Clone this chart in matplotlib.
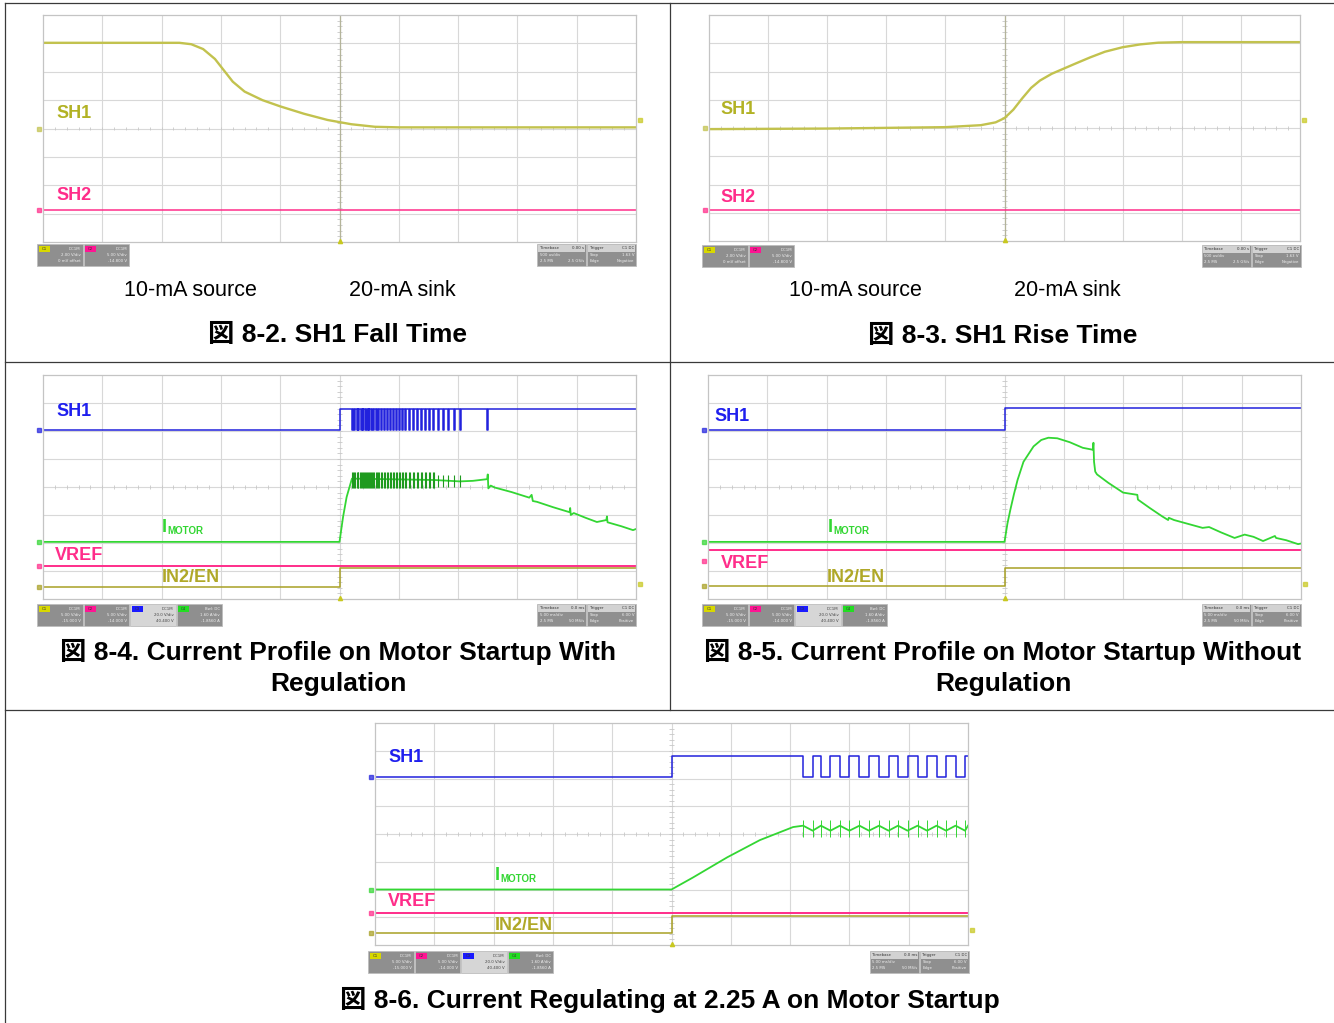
import numpy as np
import matplotlib
matplotlib.use('Agg')
import matplotlib.pyplot as plt
from matplotlib.patches import Rectangle

# ---------------- data (oscilloscope divisions: x 0..10, y 0..8) ----------------
# Fig 8-2 SH1 fall
fall_t = [0, 2.3, 2.5, 2.7, 2.9, 3.05, 3.2, 3.4, 3.7, 4.0, 4.4, 4.8, 5.2, 5.6, 6.0, 10]
fall_v = [7.02, 7.02, 6.97, 6.8, 6.45, 6.05, 5.65, 5.3, 5.0, 4.78, 4.52, 4.3, 4.15, 4.06, 4.04, 4.04]
fall_sh2 = 1.12

# Fig 8-3 SH1 rise
rise_t = [0, 2.0, 4.0, 4.6, 4.85, 5.0, 5.15, 5.3, 5.45, 5.6, 5.8, 6.0, 6.2, 6.45, 6.7, 7.0, 7.3, 7.6, 8.0, 10]
rise_v = [3.96, 3.98, 4.03, 4.1, 4.2, 4.35, 4.65, 5.05, 5.42, 5.68, 5.92, 6.1, 6.28, 6.5, 6.7, 6.86, 6.96, 7.02, 7.04, 7.04]
rise_sh2 = 1.1

# Fig 8-4 with regulation
p3_sh1_levels = [6.04, 6.8]
p3_sh1_pulses = [5.21, 5.25, 5.29, 5.32, 5.36, 5.39, 5.43, 5.46, 5.49, 5.53, 5.56, 5.61, 5.65,
                 5.70, 5.75, 5.80, 5.85, 5.90, 5.95, 6.00, 6.05, 6.10, 6.17, 6.24, 6.31, 6.37,
                 6.44, 6.51, 6.58, 6.66, 6.75, 6.83, 6.93, 7.03, 7.49]
p3_motor_t = [0, 5.0, 5.06, 5.12, 5.21, 6.6, 7.03, 7.25, 7.49, 7.50, 7.51, 7.55, 7.62, 7.9, 8.2,
              8.24, 8.26, 8.33, 8.6, 8.88, 8.89, 8.9, 8.95, 9.15, 9.34, 9.5, 9.51, 9.52, 9.75, 9.95, 10]
p3_motor_v = [2.04, 2.04, 2.93, 3.64, 4.3, 4.25, 4.2, 4.22, 4.28, 4.45, 3.95, 4.05, 3.98, 3.82, 3.62,
              3.72, 3.5, 3.47, 3.28, 3.1, 3.25, 3.0, 3.07, 2.9, 2.75, 2.82, 2.95, 2.74, 2.6, 2.46, 2.5]
p3_vref = 1.18
p3_in2 = [0.43, 1.1]

# Fig 8-5 without regulation
p4_sh1_levels = [6.04, 6.82]
p4_motor_t = [0, 5.0, 5.05, 5.1, 5.16, 5.22, 5.32, 5.49, 5.62, 5.74, 5.89, 6.1, 6.32, 6.49, 6.5,
              6.51, 6.53, 6.56, 6.75, 7.0, 7.24, 7.25, 7.27, 7.45, 7.66, 7.76, 7.77, 7.86, 8.1,
              8.34, 8.45, 8.65, 8.88, 9.05, 9.2, 9.36, 9.56, 9.58, 9.75, 9.95, 10]
p4_motor_v = [2.04, 2.04, 2.7, 3.2, 3.75, 4.25, 4.9, 5.45, 5.68, 5.76, 5.74, 5.6, 5.4, 5.33, 5.58,
              4.9, 4.55, 4.45, 4.15, 3.8, 3.72, 3.55, 3.52, 3.25, 2.95, 2.82, 2.9, 2.82, 2.68,
              2.54, 2.57, 2.38, 2.18, 2.3, 2.22, 2.07, 2.25, 2.18, 2.1, 1.96, 1.98]
p4_vref = 1.75
p4_in2 = [0.46, 1.1]

# Fig 8-6 regulating at 2.25 A
p5_sh1_levels = [6.05, 6.8]
p5_low_starts = [7.22, 7.52, 7.84, 8.17, 8.50, 8.82, 9.15, 9.47, 9.79]
p5_low_width = 0.16
p5_rise_t = [0, 5.0, 5.36, 5.94, 6.49, 7.05, 7.22]
p5_rise_v = [2.0, 2.0, 2.43, 3.16, 3.78, 4.25, 4.3]
p5_ripple = [4.3, 4.12]
p5_vref = 1.14
p5_in2 = [0.42, 1.03]

# status bar texts
ch2_text = [["DC1M", "2.00 V/div", "0 mV offset"], ["DC1M", "5.00 V/div", "-14.800 V"]]
ch4_text = [["DC1M", "5.00 V/div", "-15.000 V"], ["DC1M", "5.00 V/div", "-14.000 V"],
            ["DC1M", "20.0 V/div", "40.400 V"], ["Bwl: DC", "1.60 A/div", "-1.8560 A"]]
tb_text_a = [["Timebase", "0.00 s"], ["500 us/div", ""], ["2.5 MS", "2.5 GS/s"]]
tr_text_a = [["Trigger", "C1 DC"], ["Stop", "1.63 V"], ["Edge", "Negative"]]
tb_text_b = [["Timebase", "0.0 ms"], ["5.00 ms/div", ""], ["2.5 MS", "50 MS/s"]]
tr_text_b = [["Trigger", "C1 DC"], ["Stop", "6.00 V"], ["Edge", "Positive"]]

# ---------------- styling ----------------
W, H = 1334, 1023
FONT = ['Liberation Sans', 'Noto Sans CJK JP', 'DejaVu Sans']
C_YEL = '#c2c24e'
C_YEL_LBL = '#b2b224'
C_PINK = '#ff2d8a'
C_BLUE = '#2222dd'
C_BLUE_LBL = '#1f1fee'
C_GREEN = '#33d633'
C_DGREEN = '#1f9a1f'
C_OLIVE = '#a8a024'
C_OLIVE_LBL = '#b0a828'

fig = plt.figure(figsize=(W / 100, H / 100), dpi=100)
bg = fig.add_axes([0, 0, 1, 1])
bg.set_xlim(0, W)
bg.set_ylim(H, 0)
bg.axis('off')

# table borders
lc = '#3a3a3a'
bg.plot([5, W], [3, 3], color=lc, lw=0.9)
bg.plot([5, 5], [3, H], color=lc, lw=0.9)
bg.plot([5, W], [362, 362], color=lc, lw=0.9)
bg.plot([5, W], [710, 710], color=lc, lw=0.9)
bg.plot([670, 670], [3, 710], color=lc, lw=0.9)


def scope(x0, y0, x1, y1, trig_line=False):
    ax = fig.add_axes([x0 / W, 1 - y1 / H, (x1 - x0) / W, (y1 - y0) / H])
    ax.set_xlim(0, 10)
    ax.set_ylim(0, 8)
    ax.set_facecolor('none')
    ax.set_xticks([])
    ax.set_yticks([])
    for s in ax.spines.values():
        s.set_color('#c4c4c4')
        s.set_linewidth(0.9)
    for i in range(1, 10):
        ax.axvline(i, color='#d8d8d8', lw=0.8, zorder=0)
    for j in range(1, 8):
        ax.axhline(j, color='#d8d8d8', lw=0.8, zorder=0)
    tt = np.arange(0, 10.001, 0.2)
    vv = np.arange(0, 8.001, 0.2)
    ax.vlines(tt, 3.94, 4.06, color='#c8c8c8', lw=0.6, zorder=0)
    ax.hlines(vv, 4.95, 5.05, color='#c8c8c8', lw=0.6, zorder=0)
    if trig_line:
        ax.axvline(5, color='#b4b49a', lw=0.9, zorder=0)
    ax.plot([5], [0.04], marker='^', ms=3, color='#c8c820', clip_on=False, zorder=5)
    return ax


def gnd_marker(ax, level, color, side='left'):
    x = -0.06 if side == 'left' else 10.06
    ax.plot([x], [level], marker='s', ms=2.2, color=color, alpha=0.7, clip_on=False, zorder=5)


def pulse_trace(levels, step_t, pulses, width, t_end=10):
    lo, hi = levels
    t = [0, step_t, step_t]
    v = [lo, lo, hi]
    for p in pulses:
        t += [p, p, p + width, p + width]
        v += [hi, lo, lo, hi]
    t.append(t_end)
    v.append(hi)
    return t, v


def chan_bar(x0, y0, texts, colors, selected=None):
    w, h = 46.5, 22
    for i, (c, tx) in enumerate(zip(colors, texts)):
        xx = x0 + i * w
        face = '#d6d6d6' if i == selected else '#8f8f8f'
        tcol = '#444444' if i == selected else '#f0f0f0'
        bg.add_patch(Rectangle((xx, y0), w - 1, h, facecolor=face, edgecolor='#bdbdbd', lw=0.6))
        bg.add_patch(Rectangle((xx + 1.5, y0 + 1.5), 11, 6, facecolor=c, edgecolor='none'))
        bg.text(xx + 7, y0 + 4.6, 'C%d' % (i + 1), fontsize=2.8, ha='center', va='center', color='#333333')
        for k, s in enumerate(tx):
            bg.text(xx + w - 3, y0 + 4.6 + 6.4 * k, s, fontsize=2.8, ha='right', va='center', color=tcol)


def time_bar(x1, y0, tb, tr):
    w, h = 50, 22
    for i, rows in enumerate([tb, tr]):
        xx = x1 - 2 * w + i * w
        bg.add_patch(Rectangle((xx, y0), w - 1, h, facecolor='#8f8f8f', edgecolor='#bdbdbd', lw=0.6))
        bg.add_patch(Rectangle((xx + 1, y0 + 1), w - 3, 6.5, facecolor='#d2d2d2', edgecolor='none'))
        for k, (a, b) in enumerate(rows):
            col = '#333333' if k == 0 else '#f0f0f0'
            bg.text(xx + 2.5, y0 + 4.4 + 6.4 * k, a, fontsize=2.8, ha='left', va='center', color=col)
            bg.text(xx + w - 3, y0 + 4.4 + 6.4 * k, b, fontsize=2.8, ha='right', va='center', color=col)


def label(x, y, s, color, size=13):
    fig.text(x / W, 1 - y / H, s, color=color, fontsize=size, fontweight='bold',
             family=FONT, ha='left', va='center')


def imotor(x, y):
    label(x, y + 1, 'I', C_GREEN, 13)
    fig.text((x + 5) / W, 1 - (y + 5) / H, 'MOTOR', color=C_GREEN, fontsize=7,
             fontweight='bold', family=FONT, ha='left', va='center')


def caption(x, y, s, bold=True, size=19):
    fig.text(x / W, 1 - y / H, s, color='black', fontsize=size,
             fontweight='bold' if bold else 'normal', family=FONT, ha='center', va='center')


# ---------- Panel 1: Fig 8-2 ----------
ax1 = scope(43, 15, 636, 242, trig_line=True)
ax1.axhline(fall_sh2, color=C_PINK, lw=1.1)
ax1.plot(fall_t, fall_v, color=C_YEL, lw=1.7)
gnd_marker(ax1, 4.0, C_YEL)
gnd_marker(ax1, fall_sh2, C_PINK)
gnd_marker(ax1, 4.3, '#c8c820', side='right')
label(56, 113, 'SH1', C_YEL_LBL)
label(56, 196, 'SH2', C_PINK)
chan_bar(37, 244, ch2_text, ['#d8d800', '#ff1493'])
time_bar(637, 244, tb_text_a, tr_text_a)
caption(190, 290, '10-mA source', bold=False, size=15.5)
caption(402, 290, '20-mA sink', bold=False, size=15.5)
caption(338, 335, '図 8-2. SH1 Fall Time')

# ---------- Panel 2: Fig 8-3 ----------
ax2 = scope(709, 15, 1300, 241, trig_line=True)
ax2.axhline(rise_sh2, color=C_PINK, lw=1.1)
ax2.plot(rise_t, rise_v, color=C_YEL, lw=1.7)
gnd_marker(ax2, 4.0, C_YEL)
gnd_marker(ax2, rise_sh2, C_PINK)
gnd_marker(ax2, 4.3, '#c8c820', side='right')
label(720, 110, 'SH1', C_YEL_LBL)
label(720, 197, 'SH2', C_PINK)
chan_bar(702, 245, ch2_text, ['#d8d800', '#ff1493'])
time_bar(1302, 245, tb_text_a, tr_text_a)
caption(855, 291, '10-mA source', bold=False, size=15.5)
caption(1067, 291, '20-mA sink', bold=False, size=15.5)
caption(1003, 336, '図 8-3. SH1 Rise Time')

# ---------- Panel 3: Fig 8-4 ----------
ax3 = scope(43, 375, 636, 599)
t, v = pulse_trace(p3_sh1_levels, 5.0, p3_sh1_pulses, 0.014)
ax3.plot(t, v, color=C_BLUE, lw=1.1)
ax3.plot(p3_motor_t, p3_motor_v, color=C_GREEN, lw=1.3)
dense = [p for p in p3_sh1_pulses if p < 6.6]
sparse = [p for p in p3_sh1_pulses if 6.6 <= p < 7.1]
ax3.vlines(dense + [p + 0.018 for p in dense], 3.98, 4.55, color=C_DGREEN, lw=0.8)
ax3.vlines(sparse, 4.0, 4.42, color=C_DGREEN, lw=0.8)
ax3.axhline(p3_vref, color=C_PINK, lw=1.4)
ax3.plot([0, 5, 5, 10], [p3_in2[0], p3_in2[0], p3_in2[1], p3_in2[1]], color=C_OLIVE, lw=1.1)
gnd_marker(ax3, p3_sh1_levels[0], C_BLUE)
gnd_marker(ax3, p3_motor_v[0], C_GREEN)
gnd_marker(ax3, p3_vref, C_PINK)
gnd_marker(ax3, p3_in2[0], C_OLIVE)
gnd_marker(ax3, 0.55, '#c8c820', side='right')
label(56, 412, 'SH1', C_BLUE_LBL)
imotor(162, 526)
label(55, 555, 'VREF', C_PINK)
label(162, 578, 'IN2/EN', C_OLIVE_LBL)
chan_bar(37, 604, ch4_text, ['#d8d800', '#ff1493', '#1a1aff', '#22dd22'], selected=2)
time_bar(637, 604, tb_text_b, tr_text_b)
caption(338, 652, '図 8-4. Current Profile on Motor Startup With')
caption(338, 684, 'Regulation')

# ---------- Panel 4: Fig 8-5 ----------
ax4 = scope(708, 375, 1301, 599)
ax4.plot([0, 5, 5, 10], [p4_sh1_levels[0], p4_sh1_levels[0], p4_sh1_levels[1], p4_sh1_levels[1]],
         color=C_BLUE, lw=1.1)
ax4.plot(p4_motor_t, p4_motor_v, color=C_GREEN, lw=1.3)
ax4.axhline(p4_vref, color=C_PINK, lw=1.4)
ax4.plot([0, 5, 5, 10], [p4_in2[0], p4_in2[0], p4_in2[1], p4_in2[1]], color=C_OLIVE, lw=1.1)
gnd_marker(ax4, p4_sh1_levels[0], C_BLUE)
gnd_marker(ax4, p4_motor_v[0], C_GREEN)
gnd_marker(ax4, 0.35 + 1.0, C_PINK)
gnd_marker(ax4, p4_in2[0], C_OLIVE)
gnd_marker(ax4, 0.55, '#c8c820', side='right')
label(714, 416, 'SH1', C_BLUE_LBL)
imotor(828, 526)
label(721, 563, 'VREF', C_PINK)
label(827, 578, 'IN2/EN', C_OLIVE_LBL)
chan_bar(702, 604, ch4_text, ['#d8d800', '#ff1493', '#1a1aff', '#22dd22'], selected=2)
time_bar(1302, 604, tb_text_b, tr_text_b)
caption(1003, 652, '図 8-5. Current Profile on Motor Startup Without')
caption(1003, 684, 'Regulation')

# ---------- Panel 5: Fig 8-6 ----------
ax5 = scope(375, 723, 968, 945)
t, v = pulse_trace(p5_sh1_levels, 5.0, p5_low_starts, p5_low_width)
ax5.plot(t, v, color=C_BLUE, lw=1.1)
gt = list(p5_rise_t)
gv = list(p5_rise_v)
for s in p5_low_starts:
    gt += [s, s + p5_low_width]
    gv += [p5_ripple[0], p5_ripple[1]]
gt.append(10)
gv.append(p5_ripple[0])
ax5.plot(gt, gv, color=C_GREEN, lw=1.3)
edges = p5_low_starts + [s + p5_low_width for s in p5_low_starts]
ax5.vlines(edges, 3.9, 4.5, color=C_GREEN, lw=0.7)
ax5.axhline(p5_vref, color=C_PINK, lw=1.4)
ax5.plot([0, 5, 5, 10], [p5_in2[0], p5_in2[0], p5_in2[1], p5_in2[1]], color=C_OLIVE, lw=1.1)
gnd_marker(ax5, p5_sh1_levels[0], C_BLUE)
gnd_marker(ax5, p5_rise_v[0], C_GREEN)
gnd_marker(ax5, p5_vref, C_PINK)
gnd_marker(ax5, p5_in2[0], C_OLIVE)
gnd_marker(ax5, 0.55, '#c8c820', side='right')
label(388, 758, 'SH1', C_BLUE_LBL)
imotor(495, 874)
label(388, 902, 'VREF', C_PINK)
label(495, 926, 'IN2/EN', C_OLIVE_LBL)
chan_bar(368, 951, ch4_text, ['#d8d800', '#ff1493', '#1a1aff', '#22dd22'], selected=2)
time_bar(970, 951, tb_text_b, tr_text_b)
caption(670, 1000, '図 8-6. Current Regulating at 2.25 A on Motor Startup')

fig.savefig('out.png', dpi=100)
